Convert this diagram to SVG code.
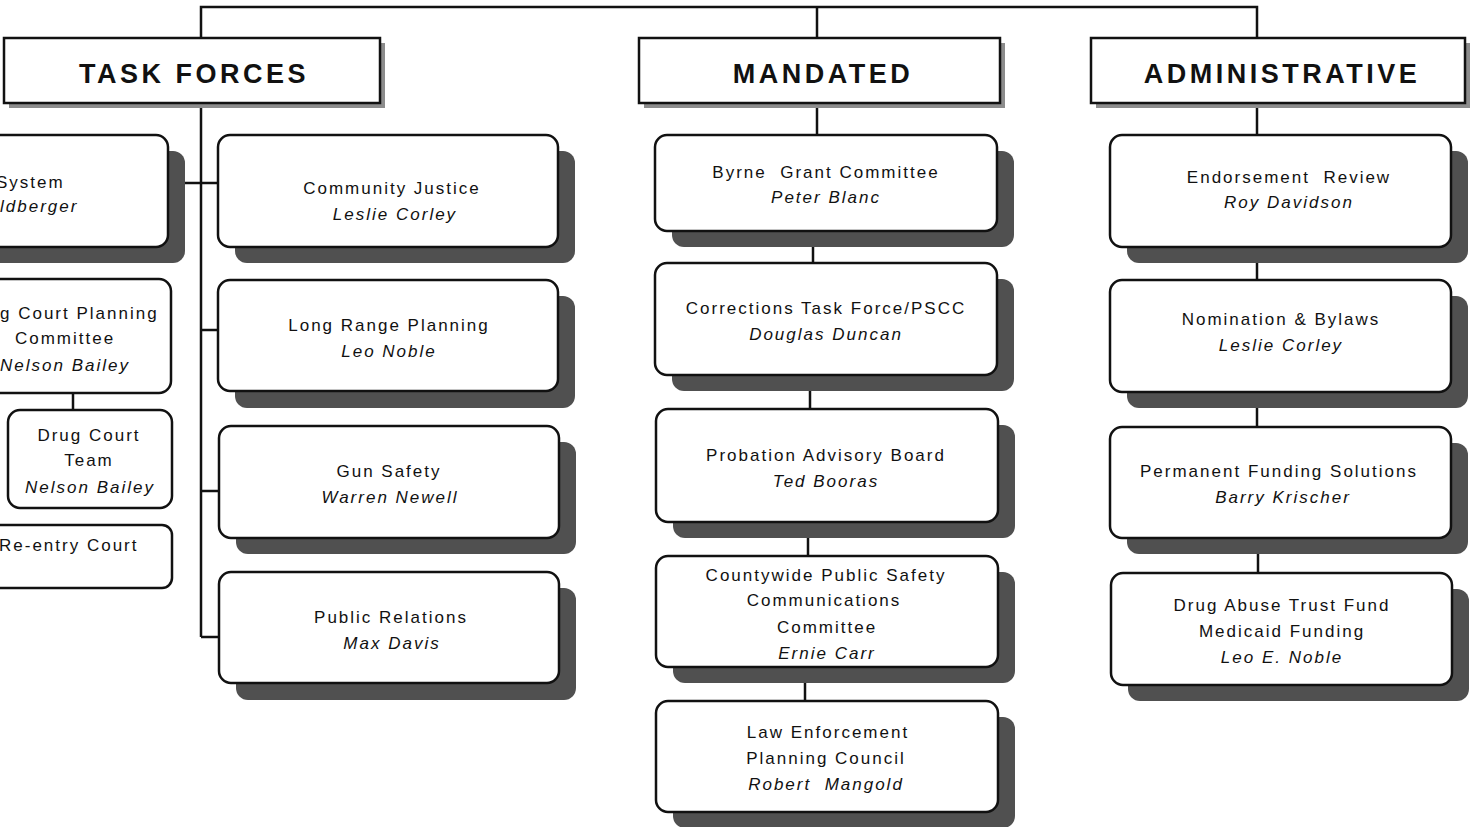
<svg xmlns="http://www.w3.org/2000/svg" width="1474" height="827" viewBox="0 0 1474 827">
<style>
.box{fill:#fff;stroke:#111;stroke-width:2.5}
.sh{fill:#505050}
.hsh{fill:#8c8c8c}
.c{stroke:#111;stroke-width:2.5;fill:none}
.t{font-family:"Liberation Sans",Arial,sans-serif;font-size:17px;letter-spacing:2px;text-anchor:middle;fill:#111}
.s{text-anchor:start}
.i{font-style:italic}
.h{font-size:27px;font-weight:bold;letter-spacing:3.5px}
.p{white-space:pre}
</style>
<rect width="1474" height="827" fill="#fff"/>
<g id="connectors">
<polyline class="c" points="201,38 201,7 1257,7 1257,38"/>
<line class="c" x1="817" y1="7" x2="817" y2="38"/>
<line class="c" x1="201" y1="104" x2="201" y2="637"/>
<line class="c" x1="185" y1="183" x2="218" y2="183"/>
<line class="c" x1="201" y1="330" x2="218" y2="330"/>
<line class="c" x1="201" y1="491" x2="218" y2="491"/>
<line class="c" x1="201" y1="637" x2="218" y2="637"/>
<line class="c" x1="73" y1="393" x2="73" y2="410"/>
<line class="c" x1="817" y1="104" x2="817" y2="135"/>
<line class="c" x1="813" y1="247" x2="813" y2="263"/>
<line class="c" x1="810" y1="391" x2="810" y2="409"/>
<line class="c" x1="808" y1="538" x2="808" y2="556"/>
<line class="c" x1="805" y1="683" x2="805" y2="701"/>
<line class="c" x1="1257" y1="104" x2="1257" y2="135"/>
<line class="c" x1="1257" y1="263" x2="1257" y2="280"/>
<line class="c" x1="1257" y1="408" x2="1257" y2="427"/>
<line class="c" x1="1258" y1="553" x2="1258" y2="573"/>
</g>
<g id="hdr-task-forces">
<rect class="hsh" x="9" y="43" width="376" height="65"/>
<rect class="box" x="4" y="38" width="376" height="65"/>
<text class="t h" x="194" y="83">TASK FORCES</text>
</g>
<g id="hdr-mandated">
<rect class="hsh" x="644" y="43" width="361" height="65"/>
<rect class="box" x="639" y="38" width="361" height="65"/>
<text class="t h" x="823" y="83">MANDATED</text>
</g>
<g id="hdr-administrative">
<rect class="hsh" x="1096" y="43" width="374" height="65"/>
<rect class="box" x="1091" y="38" width="374" height="65"/>
<text class="t h" x="1282" y="83">ADMINISTRATIVE</text>
</g>
<g id="system">
<rect class="sh" x="-43" y="151" width="228" height="112" rx="12"/>
<rect class="box" x="-60" y="135" width="228" height="112" rx="12"/>
<text class="t s" x="-4" y="188">System</text>
<text class="t s i" x="0" y="212">ldberger</text>
</g>
<g id="drug-court-planning">
<rect class="box" x="-50" y="279" width="221" height="114" rx="12"/>
<text class="t s" x="0" y="319">g Court Planning</text>
<text class="t" x="65" y="344">Committee</text>
<text class="t i" x="65" y="371">Nelson Bailey</text>
</g>
<g id="drug-court-team">
<rect class="box" x="8" y="410" width="164" height="98" rx="12"/>
<text class="t" x="89" y="441">Drug Court</text>
<text class="t" x="89" y="466">Team</text>
<text class="t i" x="90" y="493">Nelson Bailey</text>
</g>
<g id="re-entry-court">
<rect class="box" x="-50" y="525" width="222" height="63" rx="10"/>
<text class="t s" x="-1" y="551">Re-entry Court</text>
</g>
<g id="community-justice">
<rect class="sh" x="235" y="151" width="340" height="112" rx="12"/>
<rect class="box" x="218" y="135" width="340" height="112" rx="12"/>
<text class="t" x="392" y="194">Community Justice</text>
<text class="t i" x="395" y="220">Leslie Corley</text>
</g>
<g id="long-range-planning">
<rect class="sh" x="235" y="296" width="340" height="112" rx="12"/>
<rect class="box" x="218" y="280" width="340" height="111" rx="12"/>
<text class="t" x="389" y="331">Long Range Planning</text>
<text class="t i" x="389" y="357">Leo Noble</text>
</g>
<g id="gun-safety">
<rect class="sh" x="236" y="442" width="340" height="112" rx="12"/>
<rect class="box" x="219" y="426" width="340" height="112" rx="12"/>
<text class="t" x="389" y="477">Gun Safety</text>
<text class="t i" x="390" y="503">Warren Newell</text>
</g>
<g id="public-relations">
<rect class="sh" x="236" y="588" width="340" height="112" rx="12"/>
<rect class="box" x="219" y="572" width="340" height="111" rx="12"/>
<text class="t" x="391" y="623">Public Relations</text>
<text class="t i" x="392" y="649">Max Davis</text>
</g>
<g id="byrne-grant">
<rect class="sh" x="672" y="151" width="342" height="96" rx="12"/>
<rect class="box" x="655" y="135" width="342" height="96" rx="12"/>
<text class="t p" x="826" y="178">Byrne  Grant Committee</text>
<text class="t i" x="826" y="203">Peter Blanc</text>
</g>
<g id="corrections">
<rect class="sh" x="672" y="279" width="342" height="112" rx="12"/>
<rect class="box" x="655" y="263" width="342" height="112" rx="12"/>
<text class="t" x="826" y="314">Corrections Task Force/PSCC</text>
<text class="t i" x="826" y="340">Douglas Duncan</text>
</g>
<g id="probation">
<rect class="sh" x="673" y="425" width="342" height="113" rx="12"/>
<rect class="box" x="656" y="409" width="342" height="113" rx="12"/>
<text class="t" x="826" y="461">Probation Advisory Board</text>
<text class="t i" x="826" y="487">Ted Booras</text>
</g>
<g id="countywide">
<rect class="sh" x="673" y="572" width="342" height="111" rx="12"/>
<rect class="box" x="656" y="556" width="342" height="111" rx="12"/>
<text class="t" x="826" y="581">Countywide Public Safety</text>
<text class="t" x="824" y="606">Communications</text>
<text class="t" x="827" y="633">Committee</text>
<text class="t i" x="827" y="659">Ernie Carr</text>
</g>
<g id="law-enforcement">
<rect class="sh" x="673" y="717" width="342" height="111" rx="12"/>
<rect class="box" x="656" y="701" width="342" height="111" rx="12"/>
<text class="t" x="828" y="738">Law Enforcement</text>
<text class="t" x="826" y="764">Planning Council</text>
<text class="t i p" x="826" y="790">Robert  Mangold</text>
</g>
<g id="endorsement-review">
<rect class="sh" x="1127" y="151" width="341" height="112" rx="12"/>
<rect class="box" x="1110" y="135" width="341" height="112" rx="12"/>
<text class="t p" x="1289" y="183">Endorsement  Review</text>
<text class="t i" x="1289" y="208">Roy Davidson</text>
</g>
<g id="nomination-bylaws">
<rect class="sh" x="1127" y="296" width="341" height="112" rx="12"/>
<rect class="box" x="1110" y="280" width="341" height="112" rx="12"/>
<text class="t" x="1281" y="325">Nomination &amp; Bylaws</text>
<text class="t i" x="1281" y="351">Leslie Corley</text>
</g>
<g id="permanent-funding">
<rect class="sh" x="1127" y="443" width="341" height="111" rx="12"/>
<rect class="box" x="1110" y="427" width="341" height="111" rx="12"/>
<text class="t" x="1279" y="477">Permanent Funding Solutions</text>
<text class="t i" x="1283" y="503">Barry Krischer</text>
</g>
<g id="drug-abuse-trust">
<rect class="sh" x="1128" y="589" width="341" height="112" rx="12"/>
<rect class="box" x="1111" y="573" width="341" height="112" rx="12"/>
<text class="t" x="1282" y="611">Drug Abuse Trust Fund</text>
<text class="t" x="1282" y="637">Medicaid Funding</text>
<text class="t i" x="1282" y="663">Leo E. Noble</text>
</g>
</svg>
